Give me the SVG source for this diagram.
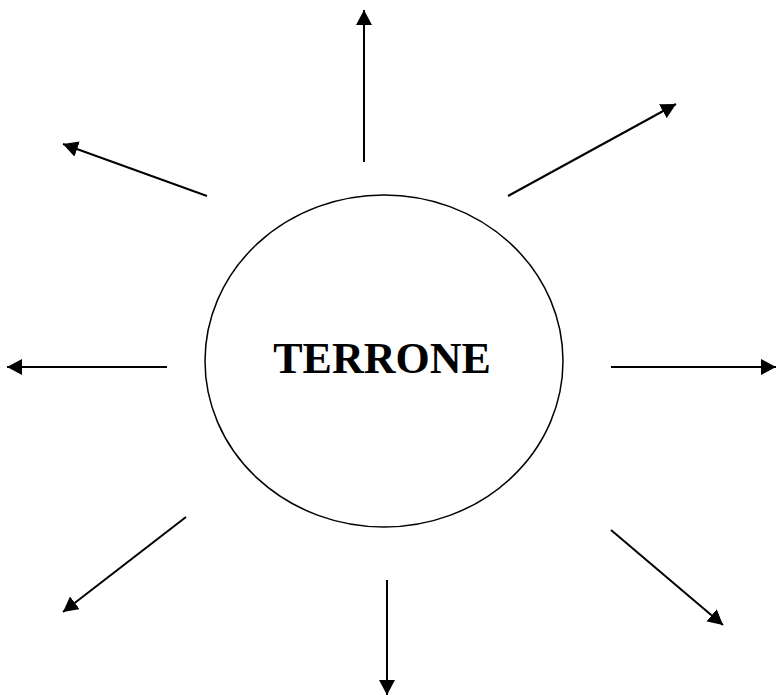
<svg xmlns="http://www.w3.org/2000/svg" width="776" height="695" viewBox="0 0 776 695">
<style>
.c{stroke:#000;stroke-width:2;fill:none;marker-end:url(#ah)}
.n{fill:#fff;stroke:#000;stroke-width:1.5}
.t{font-family:"Liberation Serif","Times New Roman",serif;font-weight:bold;font-size:44px;fill:#000}
</style>
<defs>
<marker id="ah" markerUnits="userSpaceOnUse" markerWidth="16" markerHeight="16" refX="15" refY="8" orient="auto">
<path d="M0,0 L15,8 L0,16 z" fill="#000"/>
</marker>
</defs>
<rect width="776" height="695" fill="#fff"/>
<g id="center">
<ellipse class="n" cx="384" cy="361" rx="179" ry="166"/>
<text class="t" x="382" y="373" text-anchor="middle">TERRONE</text>
</g>
<g id="connectors">
<line class="c" x1="364" y1="162" x2="364" y2="10"/>
<line class="c" x1="508" y1="196" x2="676" y2="104"/>
<line class="c" x1="207" y1="196" x2="63" y2="144"/>
<line class="c" x1="167" y1="367" x2="7" y2="367"/>
<line class="c" x1="611" y1="367" x2="776" y2="367"/>
<line class="c" x1="186" y1="517" x2="63" y2="612"/>
<line class="c" x1="387" y1="580" x2="387" y2="695"/>
<line class="c" x1="611" y1="530" x2="723" y2="625"/>
</g>
</svg>
